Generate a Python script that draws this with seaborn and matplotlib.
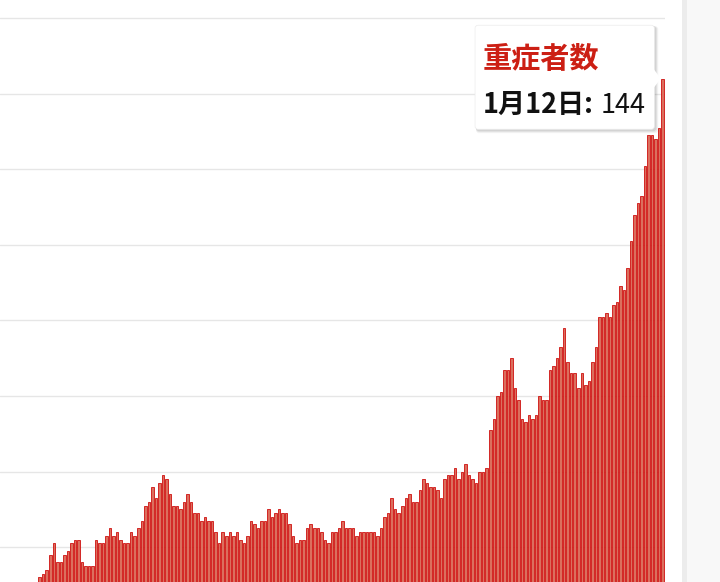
import numpy as np
import pandas as pd
import matplotlib
matplotlib.use("Agg")
import matplotlib.pyplot as plt
import matplotlib.transforms as mtrans
from matplotlib.patches import FancyBboxPatch, Polygon, Rectangle
import seaborn as sns

# daily severe cases (visible part of the chart), last bar = 1月12日
severe = [12, 13, 14, 18, 21, 16, 16, 18, 19, 21, 22, 22, 16, 15, 15, 15, 22, 21, 21, 23,
          25, 23, 24, 22, 21, 21, 24, 23, 25, 27, 31, 32, 36, 33, 37, 39, 38, 34, 31, 31,
          30, 32, 34, 32, 29, 29, 27, 28, 27, 27, 24, 21, 24, 23, 24, 23, 24, 22, 21, 23,
          27, 26, 25, 27, 27, 30, 28, 29, 30, 29, 29, 26, 23, 21, 22, 22, 25, 26, 25, 25,
          24, 22, 21, 24, 24, 25, 27, 25, 25, 25, 23, 24, 24, 24, 24, 24, 23, 25, 28, 29,
          33, 30, 29, 31, 33, 34, 32, 32, 35, 38, 37, 36, 36, 35, 33, 38, 39, 39, 41, 38,
          40, 42, 39, 38, 37, 40, 40, 41, 51, 54, 60, 61, 67, 67, 70, 62, 59, 54, 53, 55,
          54, 55, 60, 59, 59, 67, 68, 70, 73, 78, 69, 66, 66, 62, 66, 63, 64, 69, 73, 81,
          81, 82, 81, 84, 85, 89, 88, 94, 101, 108, 111, 113, 121, 129, 129, 128, 131, 144]
grid_ticks = [0, 20, 40, 60, 80, 100, 120, 140, 160]
tip_title = "重症者数"
tip_date = "1月12日:"

df = pd.DataFrame({"day": np.arange(len(severe)), "count": severe})

sns.set_theme(style="white")
plt.rcParams['font.family'] = ['Noto Sans CJK JP', 'DejaVu Sans']

fig = plt.figure(figsize=(7.2, 5.82), dpi=100)
ax = fig.add_axes([0, -0.0699, 665 / 720, 1.0406])

sns.barplot(data=df, x="day", y="count", color="#db6f5e", saturation=1,
            width=0.72, edgecolor="#cc0000", linewidth=0.55, ax=ax)

ax.set_xlim(-11.28, len(severe) - 0.36)
ax.set_ylim(0, 160.3)
ax.set_yticks(grid_ticks)
ax.yaxis.grid(True, color="#e6e6e6", linewidth=1)
ax.set_axisbelow(True)
ax.tick_params(left=False, bottom=False, labelleft=False, labelbottom=False)
ax.set_xlabel("")
ax.set_ylabel("")
sns.despine(ax=ax, left=True, bottom=True)

# grey side panel on the right
fig.add_artist(Rectangle((682 / 720, 0), 38 / 720, 1, transform=fig.transFigure,
                         facecolor="#f8f8f8", edgecolor="none"))
fig.add_artist(Rectangle((682 / 720, 0), 5 / 720, 1, transform=fig.transFigure,
                         facecolor="#ececec", edgecolor="none"))

# tooltip pointing at the last bar
px = mtrans.IdentityTransform()
tx, ty = ax.transData.transform((len(severe) - 1, severe[-1]))
bx0, bx1 = tx - 187.7, tx - 8.4
by0, by1 = ty - 50.6, ty + 53.4

for k, a in [(3, 0.04), (2, 0.06), (1, 0.08)]:
    fig.add_artist(FancyBboxPatch((bx0 + 1, by0 - 1 - k), bx1 - bx0 + k, by1 - by0 + k,
                                  boxstyle="round,pad=0,rounding_size=3", transform=px,
                                  facecolor="black", edgecolor="none", alpha=a))
fig.add_artist(FancyBboxPatch((bx0, by0), bx1 - bx0, by1 - by0,
                              boxstyle="round,pad=0,rounding_size=3", transform=px,
                              facecolor="white", edgecolor="#ececec", linewidth=0.5))
fig.add_artist(Polygon([(bx1 - 0.5, ty + 9.4), (tx - 2, ty), (bx1 - 0.5, ty - 9)],
                       closed=True, transform=px, facecolor="white", edgecolor="none"))

fig.text(bx0 + 8, ty + 11, tip_title, transform=px, fontsize=21, fontweight="bold",
         color="#cc1f14", va="baseline", ha="left")
t_date = fig.text(bx0 + 8, ty - 34, tip_date, transform=px, fontsize=19.5,
                  fontweight="bold", color="#111111", va="baseline", ha="left")
fig.add_artist(matplotlib.text.Annotation(str(severe[-1]), xy=(1, 0), xycoords=t_date,
                                          xytext=(7, 0), textcoords="offset pixels",
                                          fontsize=19.5, color="#111111",
                                          va="bottom", ha="left"))

fig.savefig("out.png", dpi=100)
